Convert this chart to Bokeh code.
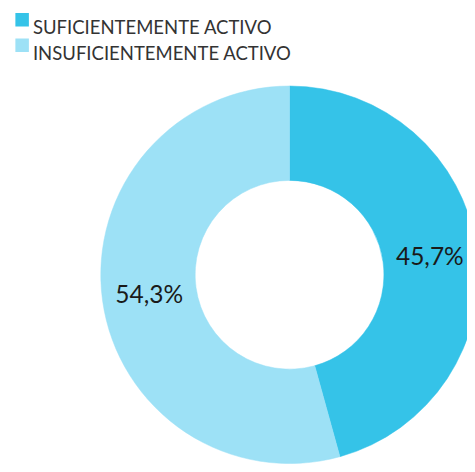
import numpy as np
from bokeh.plotting import figure
from bokeh.models import Range1d, ColumnDataSource
from bokeh.embed import file_html
from bokeh.resources import INLINE
from bokeh.core.properties import value

categories = ["SUFICIENTEMENTE ACTIVO", "INSUFICIENTEMENTE ACTIVO"]
values = [45.7, 54.3]
labels = ["45,7%", "54,3%"]
colors = ["#35C3E8", "#9DE1F6"]

W, H = 467, 464
# data units = reference-image pixels (475 x 472)
p = figure(width=W, height=H, x_range=Range1d(0, 475), y_range=Range1d(0, 472),
           output_backend="svg", toolbar_location=None,
           x_axis_location=None, y_axis_location=None, min_border=0)
p.grid.visible = False
p.outline_line_color = None
p.background_fill_color = "white"

# donut geometry
cx, cy = 294, 193
r_out, r_in = 192, 96
fracs = np.array(values) / sum(values)
cum = np.concatenate([[0], np.cumsum(fracs)])
start = np.pi / 2 - 2 * np.pi * cum[1:]
end = np.pi / 2 - 2 * np.pi * cum[:-1]
mid = (start + end) / 2
r_mid = (r_out + r_in) / 2

src = ColumnDataSource(dict(cat=categories, val=values, label=labels, color=colors,
                            start=start, end=end,
                            lx=cx + r_mid * np.cos(mid), ly=cy + r_mid * np.sin(mid)))

p.annular_wedge(x=cx, y=cy, inner_radius=r_in, outer_radius=r_out,
                start_angle="start", end_angle="end",
                fill_color="color", line_color="color", line_width=0.5, source=src)

p.text(x="lx", y="ly", text="label", source=src, text_align="center",
       text_baseline="middle", text_font=value("Lato"), text_font_size="24.5px",
       text_color="#1a1a1a")

# legend
n = len(categories)
leg = ColumnDataSource(dict(cat=categories, color=colors,
                            sx=[22] * n, sy=[452.5 - 26 * i for i in range(n)],
                            tx=[33] * n, ty=[445 - 26 * i for i in range(n)]))
p.scatter(x="sx", y="sy", marker="square", size=13.5, fill_color="color",
          line_color=None, source=leg)
p.text(x="tx", y="ty", text="cat", source=leg, text_align="left",
       text_baseline="alphabetic", text_font=value("Lato"), text_font_size="18.5px",
       text_color="#333333")

open("out.html", "w").write(file_html(p, INLINE))
